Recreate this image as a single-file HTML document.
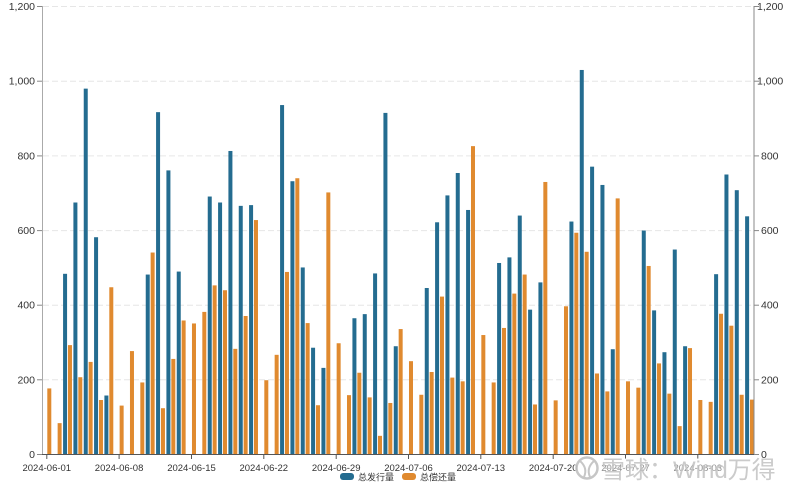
<!DOCTYPE html>
<html><head><meta charset="utf-8"><style>
html,body{margin:0;padding:0;background:#fff;}
svg{display:block;}
text{font-family:"Liberation Sans","Noto Sans CJK SC",sans-serif;}
</style></head><body>
<svg width="796" height="495" viewBox="0 0 796 495" xmlns="http://www.w3.org/2000/svg">
<defs>
<line id="gl" x1="43" y1="0" x2="754" y2="0" stroke="#e6e6e6" stroke-width="1" stroke-dasharray="6,3"/>
<line id="lt" x1="37" y1="0" x2="42" y2="0" stroke="#888" stroke-width="1"/>
<line id="rt" x1="754" y1="0" x2="759" y2="0" stroke="#888" stroke-width="1"/>
<line id="xt" x1="0" y1="455" x2="0" y2="459" stroke="#555" stroke-width="1"/>
</defs>
<rect width="796" height="495" fill="#fff"/>
<use href="#gl" y="6.5"/><use href="#gl" y="81.2"/><use href="#gl" y="155.9"/>
<use href="#gl" y="230.6"/><use href="#gl" y="305.2"/><use href="#gl" y="379.8"/>
<g transform="matrix(1 0 0 -0.37333 0 454.5)">
<g fill="#246c90">
<rect x="63.07" y="0" width="4" height="484"/>
<rect x="73.40" y="0" width="4" height="675"/>
<rect x="83.74" y="0" width="4" height="980"/>
<rect x="94.07" y="0" width="4" height="582"/>
<rect x="104.40" y="0" width="4" height="158"/>
<rect x="145.74" y="0" width="4" height="482"/>
<rect x="156.07" y="0" width="4" height="917"/>
<rect x="166.41" y="0" width="4" height="761"/>
<rect x="176.74" y="0" width="4" height="490"/>
<rect x="207.74" y="0" width="4" height="691"/>
<rect x="218.08" y="0" width="4" height="675"/>
<rect x="228.41" y="0" width="4" height="813"/>
<rect x="238.75" y="0" width="4" height="666"/>
<rect x="249.08" y="0" width="4" height="668"/>
<rect x="280.08" y="0" width="4" height="936"/>
<rect x="290.42" y="0" width="4" height="732"/>
<rect x="300.75" y="0" width="4" height="501"/>
<rect x="311.08" y="0" width="4" height="286"/>
<rect x="321.42" y="0" width="4" height="232"/>
<rect x="352.42" y="0" width="4" height="365"/>
<rect x="362.75" y="0" width="4" height="376"/>
<rect x="373.09" y="0" width="4" height="485"/>
<rect x="383.42" y="0" width="4" height="915"/>
<rect x="393.76" y="0" width="4" height="290"/>
<rect x="424.76" y="0" width="4" height="446"/>
<rect x="435.09" y="0" width="4" height="622"/>
<rect x="445.43" y="0" width="4" height="694"/>
<rect x="455.76" y="0" width="4" height="754"/>
<rect x="466.09" y="0" width="4" height="655"/>
<rect x="497.10" y="0" width="4" height="513"/>
<rect x="507.43" y="0" width="4" height="528"/>
<rect x="517.76" y="0" width="4" height="640"/>
<rect x="528.10" y="0" width="4" height="388"/>
<rect x="538.43" y="0" width="4" height="461"/>
<rect x="569.43" y="0" width="4" height="624"/>
<rect x="579.77" y="0" width="4" height="1030"/>
<rect x="590.10" y="0" width="4" height="771"/>
<rect x="600.44" y="0" width="4" height="722"/>
<rect x="610.77" y="0" width="4" height="282"/>
<rect x="641.77" y="0" width="4" height="600"/>
<rect x="652.11" y="0" width="4" height="386"/>
<rect x="662.44" y="0" width="4" height="274"/>
<rect x="672.77" y="0" width="4" height="549"/>
<rect x="683.11" y="0" width="4" height="290"/>
<rect x="714.11" y="0" width="4" height="483"/>
<rect x="724.44" y="0" width="4" height="750"/>
<rect x="734.78" y="0" width="4" height="708"/>
<rect x="745.11" y="0" width="4" height="638"/>
</g>
<g fill="#e08a2f">
<rect x="47.30" y="0" width="4" height="177"/>
<rect x="57.63" y="0" width="4" height="84"/>
<rect x="67.97" y="0" width="4" height="293"/>
<rect x="78.30" y="0" width="4" height="207"/>
<rect x="88.64" y="0" width="4" height="248"/>
<rect x="98.97" y="0" width="4" height="146"/>
<rect x="109.30" y="0" width="4" height="448"/>
<rect x="119.64" y="0" width="4" height="131"/>
<rect x="129.97" y="0" width="4" height="277"/>
<rect x="140.31" y="0" width="4" height="193"/>
<rect x="150.64" y="0" width="4" height="541"/>
<rect x="160.97" y="0" width="4" height="124"/>
<rect x="171.31" y="0" width="4" height="256"/>
<rect x="181.64" y="0" width="4" height="359"/>
<rect x="191.98" y="0" width="4" height="351"/>
<rect x="202.31" y="0" width="4" height="382"/>
<rect x="212.64" y="0" width="4" height="453"/>
<rect x="222.98" y="0" width="4" height="440"/>
<rect x="233.31" y="0" width="4" height="283"/>
<rect x="243.65" y="0" width="4" height="371"/>
<rect x="253.98" y="0" width="4" height="628"/>
<rect x="264.31" y="0" width="4" height="199"/>
<rect x="274.65" y="0" width="4" height="267"/>
<rect x="284.98" y="0" width="4" height="489"/>
<rect x="295.32" y="0" width="4" height="740"/>
<rect x="305.65" y="0" width="4" height="352"/>
<rect x="315.98" y="0" width="4" height="132"/>
<rect x="326.32" y="0" width="4" height="702"/>
<rect x="336.65" y="0" width="4" height="298"/>
<rect x="346.99" y="0" width="4" height="159"/>
<rect x="357.32" y="0" width="4" height="219"/>
<rect x="367.65" y="0" width="4" height="153"/>
<rect x="377.99" y="0" width="4" height="50"/>
<rect x="388.32" y="0" width="4" height="138"/>
<rect x="398.66" y="0" width="4" height="336"/>
<rect x="408.99" y="0" width="4" height="250"/>
<rect x="419.32" y="0" width="4" height="160"/>
<rect x="429.66" y="0" width="4" height="221"/>
<rect x="439.99" y="0" width="4" height="423"/>
<rect x="450.33" y="0" width="4" height="206"/>
<rect x="460.66" y="0" width="4" height="196"/>
<rect x="470.99" y="0" width="4" height="826"/>
<rect x="481.33" y="0" width="4" height="320"/>
<rect x="491.66" y="0" width="4" height="193"/>
<rect x="502.00" y="0" width="4" height="339"/>
<rect x="512.33" y="0" width="4" height="431"/>
<rect x="522.66" y="0" width="4" height="482"/>
<rect x="533.00" y="0" width="4" height="134"/>
<rect x="543.33" y="0" width="4" height="730"/>
<rect x="553.67" y="0" width="4" height="145"/>
<rect x="564.00" y="0" width="4" height="397"/>
<rect x="574.33" y="0" width="4" height="594"/>
<rect x="584.67" y="0" width="4" height="543"/>
<rect x="595.00" y="0" width="4" height="217"/>
<rect x="605.34" y="0" width="4" height="169"/>
<rect x="615.67" y="0" width="4" height="686"/>
<rect x="626.00" y="0" width="4" height="196"/>
<rect x="636.34" y="0" width="4" height="179"/>
<rect x="646.67" y="0" width="4" height="505"/>
<rect x="657.01" y="0" width="4" height="244"/>
<rect x="667.34" y="0" width="4" height="163"/>
<rect x="677.67" y="0" width="4" height="76"/>
<rect x="688.01" y="0" width="4" height="285"/>
<rect x="698.34" y="0" width="4" height="146"/>
<rect x="708.68" y="0" width="4" height="141"/>
<rect x="719.01" y="0" width="4" height="377"/>
<rect x="729.34" y="0" width="4" height="345"/>
<rect x="739.68" y="0" width="4" height="160"/>
<rect x="750.01" y="0" width="4" height="147"/>
</g>
</g>
<line x1="42.5" y1="6" x2="42.5" y2="455" stroke="#aaa" stroke-width="1"/>
<line x1="754" y1="6" x2="754" y2="455" stroke="#888" stroke-width="1"/>
<line x1="42" y1="454.5" x2="754.5" y2="454.5" stroke="#555" stroke-width="1"/>
<use href="#lt" y="6.5"/><use href="#lt" y="81.2"/><use href="#lt" y="155.9"/><use href="#lt" y="230.6"/>
<use href="#lt" y="305.2"/><use href="#lt" y="379.8"/><use href="#lt" y="454.5"/>
<use href="#rt" y="6.5"/><use href="#rt" y="81.2"/><use href="#rt" y="155.9"/><use href="#rt" y="230.6"/>
<use href="#rt" y="305.2"/><use href="#rt" y="379.8"/><use href="#rt" y="454.5"/>
<use href="#xt" x="46.8"/><use href="#xt" x="119.1"/><use href="#xt" x="191.5"/><use href="#xt" x="263.8"/>
<use href="#xt" x="336.2"/><use href="#xt" x="408.5"/><use href="#xt" x="480.8"/><use href="#xt" x="553.2"/>
<use href="#xt" x="625.5"/><use href="#xt" x="697.8"/>
<g font-size="10.5" fill="#333" text-anchor="end">
<text x="35" y="10">1,200</text><text x="35" y="84.7">1,000</text>
<text x="35" y="159.4">800</text><text x="35" y="234.1">600</text>
<text x="35" y="308.7">400</text><text x="35" y="383.3">200</text>
<text x="35" y="458">0</text>
</g>
<g font-size="10.5" fill="#333" text-anchor="start">
<text x="757" y="10">1,200</text><text x="757" y="84.7">1,000</text>
<text x="761" y="159.4">800</text><text x="761" y="234.1">600</text>
<text x="761" y="308.7">400</text><text x="761" y="383.3">200</text>
<text x="761" y="458">0</text>
</g>
<g font-size="9.5" fill="#333" text-anchor="middle">
<text x="46.8" y="471">2024-06-01</text><text x="119.1" y="471">2024-06-08</text>
<text x="191.5" y="471">2024-06-15</text><text x="263.8" y="471">2024-06-22</text>
<text x="336.2" y="471">2024-06-29</text><text x="408.5" y="471">2024-07-06</text>
<text x="480.8" y="471">2024-07-13</text><text x="553.2" y="471">2024-07-20</text>
<text x="625.5" y="471">2024-07-27</text><text x="697.8" y="471">2024-08-03</text>
</g>
<rect x="340" y="473" width="14" height="7" rx="3" fill="#246c90"/>
<text x="358" y="480.5" font-size="9" fill="#333" font-family="'Noto Sans CJK SC',sans-serif">总发行量</text>
<rect x="402" y="473" width="14" height="7" rx="3" fill="#e08a2f"/>
<text x="420" y="480.5" font-size="9" fill="#333" font-family="'Noto Sans CJK SC',sans-serif">总偿还量</text>
<rect x="575" y="458" width="200" height="25" fill="#fff" opacity="0.45"/>
<g opacity="0.85">
<circle cx="587" cy="468" r="10.5" fill="none" stroke="#bdbdbd" stroke-width="2.5"/>
<path d="M580 461 Q588 468 584 477 M594 461 Q586 468 590 477" fill="none" stroke="#bdbdbd" stroke-width="2"/>
<text x="601" y="478" font-size="24" fill="#c2c2c2" font-family="'Liberation Sans','Noto Sans CJK SC',sans-serif">雪球：Wind万得</text>
</g>
</svg>
</body></html>
